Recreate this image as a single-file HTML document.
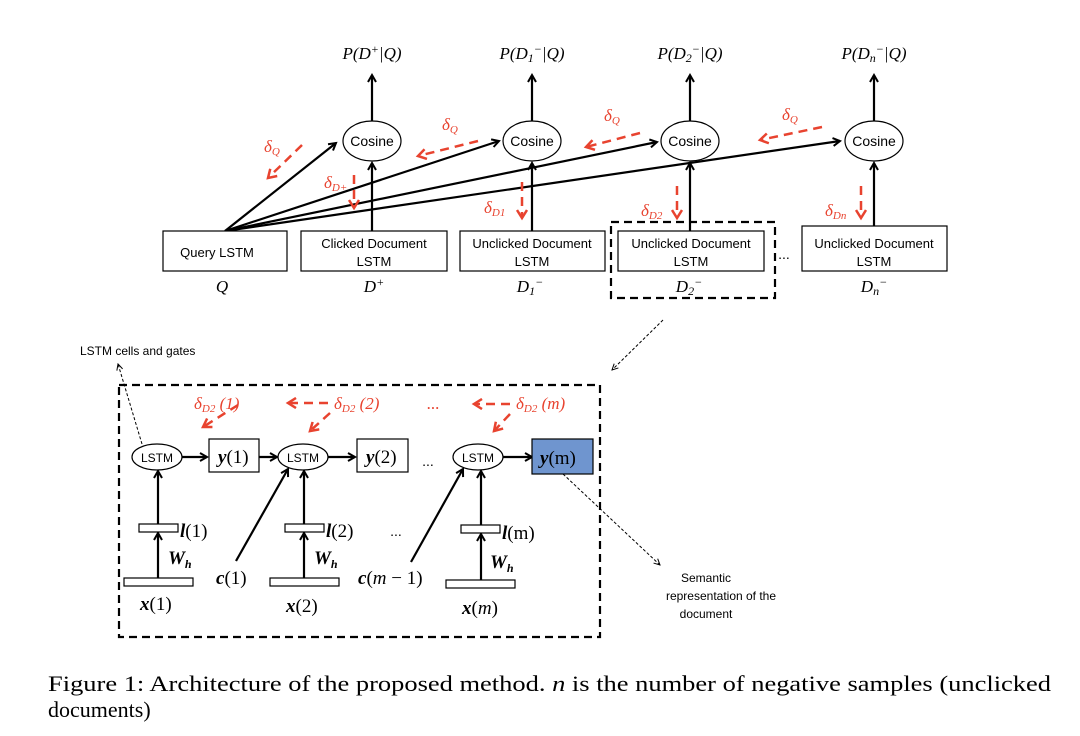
<!DOCTYPE html>
<html><head><meta charset="utf-8"><style>
body{margin:0;background:#fff;}
svg{display:block;}
.s{font-family:"Liberation Sans",sans-serif;}
.m{font-family:"Liberation Serif",serif;font-style:italic;}
.b{font-family:"Liberation Serif",serif;font-weight:bold;font-style:italic;}
.r{fill:#e8432f;}
</style></head><body>
<svg width="1080" height="736" viewBox="0 0 1080 736" xmlns="http://www.w3.org/2000/svg">
<defs>
<marker id="a" markerWidth="10" markerHeight="10" refX="8" refY="5" orient="auto" markerUnits="userSpaceOnUse"><path d="M1,1 L8,5 L1,9" fill="none" stroke="#000" stroke-width="2"/></marker>
<marker id="ar" markerWidth="12" markerHeight="12" refX="9" refY="6" orient="auto" markerUnits="userSpaceOnUse"><path d="M1,1 L9,6 L1,11" fill="none" stroke="#e8432f" stroke-width="2.5"/></marker>
<marker id="t" markerWidth="8" markerHeight="8" refX="7" refY="4" orient="auto" markerUnits="userSpaceOnUse"><path d="M1,1 L7,4 L1,7" fill="none" stroke="#000" stroke-width="1"/></marker>
</defs>
<g stroke="#000" stroke-width="2.2" fill="none">
<line x1="372" y1="121" x2="372" y2="75" marker-end="url(#a)"/>
<line x1="532" y1="121" x2="532" y2="75" marker-end="url(#a)"/>
<line x1="690" y1="121" x2="690" y2="75" marker-end="url(#a)"/>
<line x1="874" y1="121" x2="874" y2="75" marker-end="url(#a)"/>
<line x1="372" y1="231" x2="372" y2="163" marker-end="url(#a)"/>
<line x1="532" y1="231" x2="532" y2="163" marker-end="url(#a)"/>
<line x1="690" y1="231" x2="690" y2="163" marker-end="url(#a)"/>
<line x1="874" y1="226" x2="874" y2="163" marker-end="url(#a)"/>
<line x1="225" y1="231" x2="336" y2="143" marker-end="url(#a)"/>
<line x1="225" y1="231" x2="499" y2="141" marker-end="url(#a)"/>
<line x1="225" y1="231" x2="657" y2="142" marker-end="url(#a)"/>
<line x1="225" y1="231" x2="840" y2="141" marker-end="url(#a)"/>
</g>
<g stroke="#000" stroke-width="1.2" fill="#fff">
<ellipse cx="372" cy="141" rx="29" ry="20"/>
<ellipse cx="532" cy="141" rx="29" ry="20"/>
<ellipse cx="690" cy="141" rx="29" ry="20"/>
<ellipse cx="874" cy="141" rx="29" ry="20"/>
<rect x="163" y="231" width="124" height="40"/>
<rect x="301" y="231" width="146" height="40"/>
<rect x="460" y="231" width="145" height="40"/>
<rect x="618" y="231" width="146" height="40"/>
<rect x="802" y="226" width="145" height="45"/>
</g>
<rect x="611" y="222" width="164" height="76" fill="none" stroke="#000" stroke-width="2.2" stroke-dasharray="8,5"/>
<g class="s" font-size="14" text-anchor="middle">
<text x="372" y="146">Cosine</text><text x="532" y="146">Cosine</text><text x="690" y="146">Cosine</text><text x="874" y="146">Cosine</text>
<text x="217" y="257" font-size="13">Query LSTM</text>
<text x="374" y="248" font-size="13">Clicked Document</text><text x="374" y="266" font-size="13">LSTM</text>
<text x="532" y="248" font-size="13">Unclicked Document</text><text x="532" y="266" font-size="13">LSTM</text>
<text x="691" y="248" font-size="13">Unclicked Document</text><text x="691" y="266" font-size="13">LSTM</text>
<text x="874" y="248" font-size="13">Unclicked Document</text><text x="874" y="266" font-size="13">LSTM</text>
<text x="784" y="259">...</text>
</g>
<g class="m" font-size="17" text-anchor="middle">
<text x="372" y="59">P(D<tspan dy="-6" font-size="12">+</tspan><tspan dy="6">|Q)</tspan></text>
<text x="532" y="59">P(D<tspan dy="3" font-size="12">1</tspan><tspan dy="-9" font-size="12">−</tspan><tspan dy="6">|Q)</tspan></text>
<text x="690" y="59">P(D<tspan dy="3" font-size="12">2</tspan><tspan dy="-9" font-size="12">−</tspan><tspan dy="6">|Q)</tspan></text>
<text x="874" y="59">P(D<tspan dy="3" font-size="12">n</tspan><tspan dy="-9" font-size="12">−</tspan><tspan dy="6">|Q)</tspan></text>
<text x="222" y="292">Q</text>
<text x="374" y="292">D<tspan dy="-6" font-size="12">+</tspan></text>
<text x="530" y="292">D<tspan dy="3" font-size="12">1</tspan><tspan dy="-9" font-size="12">−</tspan></text>
<text x="689" y="292">D<tspan dy="3" font-size="12">2</tspan><tspan dy="-9" font-size="12">−</tspan></text>
<text x="874" y="292">D<tspan dy="3" font-size="12">n</tspan><tspan dy="-9" font-size="12">−</tspan></text>
</g>
<g stroke="#e8432f" stroke-width="2.5" fill="none" stroke-dasharray="9,6">
<line x1="302" y1="145" x2="268" y2="178" marker-end="url(#ar)"/>
<line x1="478" y1="141" x2="418" y2="156" marker-end="url(#ar)"/>
<line x1="640" y1="133" x2="586" y2="147" marker-end="url(#ar)"/>
<line x1="822" y1="127" x2="760" y2="140" marker-end="url(#ar)"/>
<line x1="354" y1="175" x2="354" y2="208" marker-end="url(#ar)"/>
<line x1="522" y1="182" x2="522" y2="218" marker-end="url(#ar)"/>
<line x1="677" y1="186" x2="677" y2="218" marker-end="url(#ar)"/>
<line x1="861" y1="186" x2="861" y2="218" marker-end="url(#ar)"/>
<line x1="238" y1="405" x2="203" y2="427" marker-end="url(#ar)"/>
<line x1="328" y1="403" x2="288" y2="403" marker-end="url(#ar)"/>
<line x1="330" y1="413" x2="310" y2="431" marker-end="url(#ar)"/>
<line x1="510" y1="404" x2="474" y2="404" marker-end="url(#ar)"/>
<line x1="510" y1="414" x2="494" y2="431" marker-end="url(#ar)"/>
</g>
<g class="m r" font-size="17">
<text x="264" y="152">δ<tspan font-size="11" dy="3">Q</tspan></text>
<text x="442" y="130">δ<tspan font-size="11" dy="3">Q</tspan></text>
<text x="604" y="121">δ<tspan font-size="11" dy="3">Q</tspan></text>
<text x="782" y="120">δ<tspan font-size="11" dy="3">Q</tspan></text>
<text x="324" y="188">δ<tspan font-size="11" dy="3">D+</tspan></text>
<text x="484" y="213">δ<tspan font-size="11" dy="3">D1</tspan></text>
<text x="641" y="216">δ<tspan font-size="11" dy="3">D2</tspan></text>
<text x="825" y="216">δ<tspan font-size="11" dy="3">Dn</tspan></text>
<text x="194" y="409">δ<tspan font-size="11" dy="3">D2</tspan><tspan dy="-3"> (1)</tspan></text>
<text x="334" y="409">δ<tspan font-size="11" dy="3">D2</tspan><tspan dy="-3"> (2)</tspan></text>
<text x="427" y="409">...</text>
<text x="516" y="409">δ<tspan font-size="11" dy="3">D2</tspan><tspan dy="-3"> (m)</tspan></text>
</g>
<text x="80" y="355" class="s" font-size="12">LSTM cells and gates</text>
<line x1="142" y1="444" x2="118" y2="364" stroke="#000" stroke-width="1" stroke-dasharray="3,2" marker-end="url(#t)"/>
<line x1="663" y1="320" x2="612" y2="370" stroke="#000" stroke-width="1" stroke-dasharray="3,2" marker-end="url(#t)"/>
<line x1="563" y1="474" x2="660" y2="565" stroke="#000" stroke-width="1" stroke-dasharray="3,2" marker-end="url(#t)"/>
<g class="s" font-size="12" text-anchor="middle"><text x="706" y="582">Semantic</text><text x="721" y="600">representation of the</text><text x="706" y="618">document</text></g>
<rect x="119" y="385" width="481" height="252" fill="none" stroke="#000" stroke-width="2.2" stroke-dasharray="8,5"/>
<g stroke="#000" stroke-width="2.2" fill="none">
<line x1="182" y1="457" x2="207" y2="457" marker-end="url(#a)"/>
<line x1="259" y1="457" x2="277" y2="457" marker-end="url(#a)"/>
<line x1="328" y1="457" x2="355" y2="457" marker-end="url(#a)"/>
<line x1="503" y1="457" x2="532" y2="457" marker-end="url(#a)"/>
<line x1="158" y1="579" x2="158" y2="533" marker-end="url(#a)"/>
<line x1="158" y1="524" x2="158" y2="471" marker-end="url(#a)"/>
<line x1="304" y1="579" x2="304" y2="533" marker-end="url(#a)"/>
<line x1="304" y1="524" x2="304" y2="471" marker-end="url(#a)"/>
<line x1="481" y1="580" x2="481" y2="534" marker-end="url(#a)"/>
<line x1="481" y1="525" x2="481" y2="471" marker-end="url(#a)"/>
<line x1="236" y1="561" x2="288" y2="469" marker-end="url(#a)"/>
<line x1="411" y1="562" x2="463" y2="469" marker-end="url(#a)"/>
</g>
<g stroke="#000" stroke-width="1.2" fill="#fff">
<ellipse cx="157" cy="457" rx="25" ry="13"/>
<ellipse cx="303" cy="457" rx="25" ry="13"/>
<ellipse cx="478" cy="457" rx="25" ry="13"/>
<rect x="209" y="439" width="50" height="33"/>
<rect x="357" y="439" width="51" height="33"/>
<rect x="532" y="439" width="61" height="35" fill="#6f95cf"/>
<rect x="139" y="524" width="39" height="8"/>
<rect x="285" y="524" width="39" height="8"/>
<rect x="461" y="525" width="39" height="8"/>
<rect x="124" y="578" width="69" height="8"/>
<rect x="270" y="578" width="69" height="8"/>
<rect x="446" y="580" width="69" height="8"/>
</g>
<g class="s" font-size="12" text-anchor="middle"><text x="157" y="462">LSTM</text><text x="303" y="462">LSTM</text><text x="478" y="462">LSTM</text><text x="428" y="466" font-size="14">...</text><text x="396" y="536" font-size="14">...</text></g>
<g font-family="Liberation Serif,serif" font-size="19">
<text x="218" y="463"><tspan class="b">y</tspan>(1)</text>
<text x="366" y="463"><tspan class="b">y</tspan>(2)</text>
<text x="540" y="464"><tspan class="b">y</tspan>(m)</text>
<text x="180" y="537"><tspan class="b">l</tspan>(1)</text>
<text x="326" y="537"><tspan class="b">l</tspan>(2)</text>
<text x="502" y="539"><tspan class="b">l</tspan>(m)</text>
<text x="168" y="564" class="b">W<tspan font-size="12" dy="4">h</tspan></text>
<text x="314" y="564" class="b">W<tspan font-size="12" dy="4">h</tspan></text>
<text x="490" y="568" class="b">W<tspan font-size="12" dy="4">h</tspan></text>
<text x="216" y="584"><tspan class="b">c</tspan>(1)</text>
<text x="358" y="584"><tspan class="b">c</tspan>(<tspan font-style="italic">m</tspan> − 1)</text>
<text x="140" y="610"><tspan class="b">x</tspan>(1)</text>
<text x="286" y="612"><tspan class="b">x</tspan>(2)</text>
<text x="462" y="614"><tspan class="b">x</tspan>(<tspan font-style="italic">m</tspan>)</text>
</g>
<g font-family="Liberation Serif,serif" font-size="22">
<text x="48" y="691" textLength="1003" lengthAdjust="spacingAndGlyphs">Figure 1: Architecture of the proposed method. <tspan font-style="italic">n</tspan> is the number of negative samples (unclicked</text>
<text x="48" y="717">documents)</text>
</g>
</svg>
</body></html>
